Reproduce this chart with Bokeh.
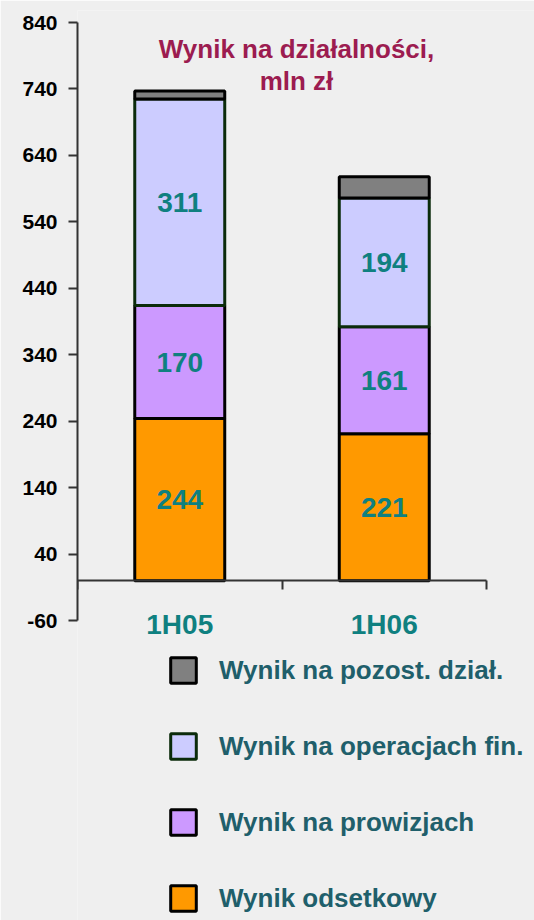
import numpy as np
from bokeh.plotting import figure
from bokeh.core.properties import value
from bokeh.models import (ColumnDataSource, Range1d, LinearAxis, FixedTicker,
                          Legend, LegendItem, LabelSet, Label)
from bokeh.embed import file_html
from bokeh.resources import INLINE

# ---- data ----
categories = ["1H05", "1H06"]
wynik_odsetkowy = [244, 221]
wynik_prowizje = [170, 161]
wynik_oper_fin = [311, 194]
wynik_pozost = [12, 32]
series_names = ["Wynik odsetkowy", "Wynik na prowizjach",
                "Wynik na operacjach fin.", "Wynik na pozost. dział."]
y_ticks = [-60, 40, 140, 240, 340, 440, 540, 640, 740, 840]
title_lines = ["Wynik na działalności,", "mln zł"]

# ---- styles ----
FONT = "Liberation Sans"
fills = ["#ff9900", "#cc99ff", "#ccccff", "#808080"]
lines = ["#000000", "#000000", "#0b2b0b", "#000000"]
BG = "#efefef"
TEAL = "#0f8080"

# ---- layout (pixels) ----
W, H = 534, 920
LEFT, TOP = 77, 10                  # side panels reserved for the axes
AXIS_TOP, AXIS_BOTTOM = 22, 620     # where the y axis runs on the page
CAT_PX = 204.5                      # pixels per category slot
FRAME_W, FRAME_H = W - LEFT, H - TOP
PX_PER_UNIT = (AXIS_BOTTOM - AXIS_TOP) / (y_ticks[-1] - y_ticks[0])
x0 = 0.0
x1 = x0 + FRAME_W / CAT_PX
y1 = y_ticks[-1] + (AXIS_TOP - TOP) / PX_PER_UNIT
y0 = y1 - FRAME_H / PX_PER_UNIT

p = figure(frame_width=FRAME_W, frame_height=FRAME_H,
           x_range=Range1d(x0, x1), y_range=Range1d(y0, y1),
           output_backend="svg", toolbar_location=None,
           x_axis_location=None, y_axis_location=None,
           min_border_left=LEFT, min_border_right=0,
           min_border_top=TOP, min_border_bottom=0)
p.background_fill_color = BG
p.border_fill_color = BG
p.outline_line_color = None
p.grid.visible = False

xc = np.arange(len(categories)) + 0.5
src = ColumnDataSource(dict(x=xc, ods=wynik_odsetkowy, prow=wynik_prowizje,
                            oper=wynik_oper_fin, poz=wynik_pozost))
keys = ["ods", "prow", "oper", "poz"]
rs = p.vbar_stack(keys, x="x", width=0.44, source=src,
                  fill_color=fills, line_color=lines, line_width=3)

# value labels centred on the three main segments
vals = np.array([wynik_odsetkowy, wynik_prowizje, wynik_oper_fin], dtype=float)
tops = np.cumsum(vals, axis=0)
mids = tops - vals / 2
lab_x, lab_y, lab_t = [], [], []
for i in range(vals.shape[0]):
    for j in range(len(categories)):
        lab_x.append(xc[j])
        lab_y.append(mids[i, j])
        lab_t.append(str(int(vals[i, j])))
lsrc = ColumnDataSource(dict(x=lab_x, y=lab_y, t=lab_t))
p.add_layout(LabelSet(x="x", y="y", text="t", source=lsrc, text_align="center",
                      text_baseline="middle", text_font=value(FONT), text_font_style="bold",
                      text_font_size="28px", text_color=TEAL))

# category labels just under the zero line
csrc = ColumnDataSource(dict(x=xc, y=[-43] * len(categories), t=categories))
p.add_layout(LabelSet(x="x", y="y", text="t", source=csrc, text_align="center",
                      text_baseline="top", text_font=value(FONT), text_font_style="bold",
                      text_font_size="28px", text_color=TEAL))

# y axis on the frame's left edge
yax = LinearAxis(ticker=FixedTicker(ticks=y_ticks), bounds=(y_ticks[0], y_ticks[-1]))
yax.axis_line_width = 2
yax.axis_line_color = "#333333"
yax.major_tick_out = 9
yax.major_tick_in = 0
yax.major_tick_line_width = 2
yax.major_tick_line_color = "#333333"
yax.minor_tick_line_color = None
yax.major_label_standoff = 11
yax.major_label_text_font = FONT
yax.major_label_text_font_style = "bold"
yax.major_label_text_font_size = "21px"
yax.major_label_text_color = "#000000"
yax.major_label_overrides = {t: str(t) for t in y_ticks if t < 0}
p.add_layout(yax, "left")

# x axis line at zero with downward ticks at category boundaries
bounds_x = list(np.arange(len(categories) + 1))
xline = LinearAxis(ticker=FixedTicker(ticks=bounds_x), fixed_location=0,
                   bounds=(bounds_x[0], bounds_x[-1]))
xline.axis_line_width = 2
xline.axis_line_color = "#333333"
xline.major_tick_out = 0
xline.major_tick_in = 9
xline.major_tick_line_width = 2
xline.major_tick_line_color = "#333333"
xline.minor_tick_line_color = None
xline.major_label_standoff = 0
xline.major_label_text_color = None
xline.major_label_text_font_size = "1px"
p.add_layout(xline, "above")

# title
for txt, base in zip(title_lines, [48, 80]):
    p.add_layout(Label(x=296 - LEFT, y=H - base, x_units="screen", y_units="screen", text=txt,
                       text_align="center", text_baseline="alphabetic",
                       text_font=FONT, text_font_style="bold", text_font_size="26px",
                       text_color="#9c1c50"))

# legend
GLYPH, SPACING, N = 32, 44, 4
leg_height = N * GLYPH + (N - 1) * SPACING
LEG_LEFT, LEG_TOP = 167, 654
items = [LegendItem(label=series_names[i], renderers=[rs[i]]) for i in [3, 2, 1, 0]]
legend = Legend(items=items, location=(LEG_LEFT - LEFT, H - LEG_TOP - leg_height),
                glyph_width=GLYPH, glyph_height=GLYPH,
                spacing=SPACING, label_standoff=20, padding=0, margin=0,
                border_line_color=None, background_fill_alpha=0,
                label_text_font=FONT, label_text_font_style="bold",
                label_text_font_size="26px", label_text_color="#1f5f6b")
p.add_layout(legend)

open("out.html", "w").write(file_html(p, INLINE))
